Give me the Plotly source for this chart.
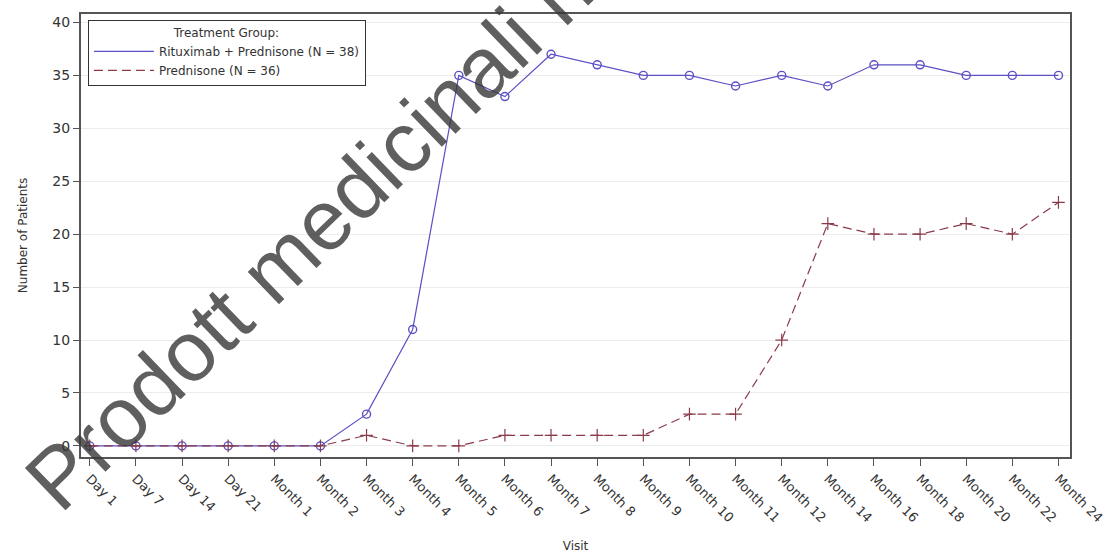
import plotly.graph_objects as go

# Visit schedule and patient counts per treatment group
visits = ["Day 1", "Day 7", "Day 14", "Day 21", "Month 1", "Month 2", "Month 3",
          "Month 4", "Month 5", "Month 6", "Month 7", "Month 8", "Month 9",
          "Month 10", "Month 11", "Month 12", "Month 14", "Month 16", "Month 18",
          "Month 20", "Month 22", "Month 24"]
rituximab_pred = [0, 0, 0, 0, 0, 0, 3, 11, 35, 33, 37, 36, 35, 35, 34, 35, 34,
                  36, 36, 35, 35, 35]
prednisone = [0, 0, 0, 0, 0, 0, 1, 0, 0, 1, 1, 1, 1, 3, 3, 10, 21, 20, 20, 21,
              20, 23]
y_ticks = [0, 5, 10, 15, 20, 25, 30, 35, 40]

group_names = ["Rituximab + Prednisone (N = 38)", "Prednisone (N = 36)"]
group_colors = ["#5b50c4", "#8a3b4a"]
group_dash = ["solid", "9px,5px"]

FONT = "DejaVu Sans"
TEXT = "#333333"
AXIS_COLOR = "#555555"
idx = list(range(len(visits)))

fig = go.Figure()
fig.add_trace(go.Scatter(
    x=idx, y=rituximab_pred, mode="lines+markers", showlegend=False,
    line=dict(color=group_colors[0], width=1.2),
    marker=dict(symbol="circle-open", size=8, color=group_colors[0],
                line=dict(width=1.4)),
))
fig.add_trace(go.Scatter(
    x=idx, y=prednisone, mode="lines+markers", showlegend=False,
    line=dict(color=group_colors[1], width=1.2, dash=group_dash[1]),
    marker=dict(symbol="cross-thin-open", size=9, color=group_colors[1],
                line=dict(width=1.2, color=group_colors[1])),
))
# Line-only legend entries
for name, color, dash in zip(group_names, group_colors, group_dash):
    fig.add_trace(go.Scatter(
        x=[None], y=[None], mode="lines", name=name,
        line=dict(color=color, width=1.2, dash=dash),
    ))

fig.update_layout(
    width=1105, height=553,
    margin=dict(l=81, r=35, t=14, b=96),
    paper_bgcolor="white", plot_bgcolor="white",
    font=dict(family=FONT, size=12, color=TEXT),
    showlegend=True,
    legend=dict(
        x=0.007, y=0.986, xanchor="left", yanchor="top",
        bgcolor="white", bordercolor="#333333", borderwidth=1,
        font=dict(family=FONT, size=12, color=TEXT),
        title=dict(text="Treatment Group:", side="top center",
                   font=dict(family=FONT, size=12, color=TEXT)),
        itemwidth=60, tracegroupgap=0,
    ),
    xaxis=dict(
        range=[-0.19, 21.25], automargin=False,
        tickmode="array", tickvals=idx, ticktext=visits,
        tickangle=45, ticks="outside", ticklen=7, tickwidth=1.2,
        tickcolor=AXIS_COLOR, ticklabeloverflow="allow",
        showline=True, linecolor=AXIS_COLOR, linewidth=2, mirror=True,
        showgrid=False, zeroline=False,
        tickfont=dict(family=FONT, size=13, color=TEXT),
        title=dict(text="Visit", font=dict(family=FONT, size=12, color=TEXT),
                   standoff=20),
    ),
    yaxis=dict(
        range=[-1.05, 40.8], automargin=False,
        tickmode="array", tickvals=y_ticks,
        ticks="outside", ticklen=6, tickwidth=1.2, tickcolor=AXIS_COLOR,
        showline=True, linecolor=AXIS_COLOR, linewidth=2, mirror=True,
        showgrid=True, gridcolor="#ececec", gridwidth=1, zeroline=False,
        tickfont=dict(family=FONT, size=14, color=TEXT),
        title=dict(text="Number of Patients",
                   font=dict(family=FONT, size=12, color=TEXT),
                   standoff=22),
    ),
)

# Diagonal watermark across the lower-left half of the chart
fig.add_annotation(
    text="Prodott medicinali n", xref="paper", yref="paper",
    x=0.23, y=0.503, xanchor="center", yanchor="middle",
    textangle=-44, showarrow=False,
    font=dict(family="Liberation Sans", size=85, color="rgba(55,55,55,0.8)"),
)

fig.write_html("out.html")
